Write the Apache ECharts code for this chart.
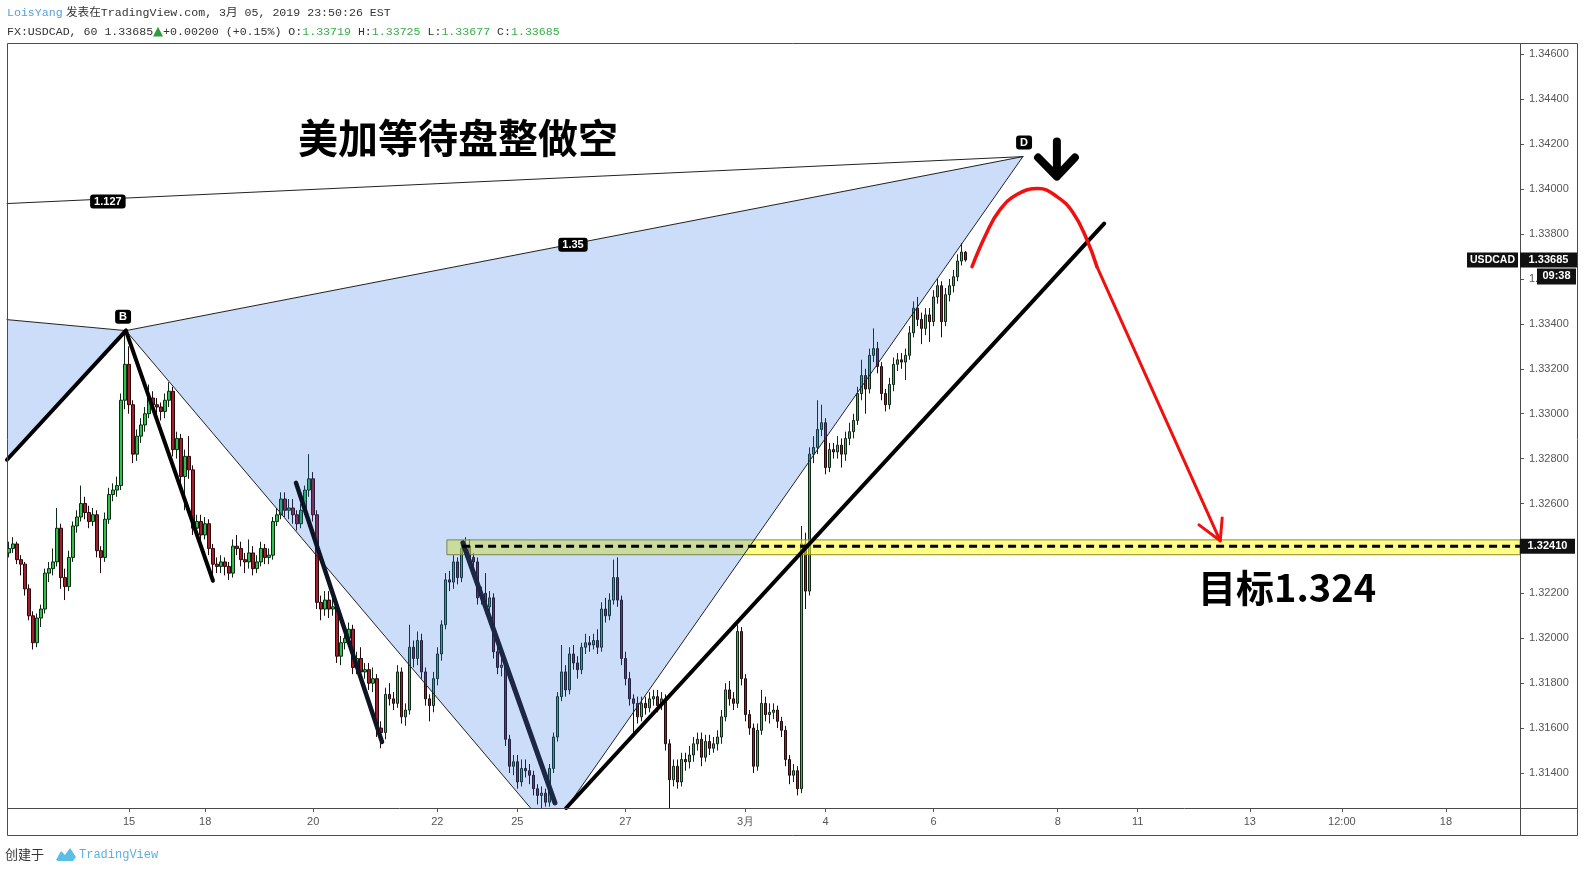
<!DOCTYPE html>
<html><head><meta charset="utf-8">
<script src="https://cdn.jsdelivr.net/npm/echarts@6/dist/echarts.min.js"></script>
<style>html,body{margin:0;padding:0;background:#fff;}#c{width:1584px;height:873px;}</style>
</head><body><div id="c"></div>
<script>
// ---------- DATA ----------
// hourly candles [open, close, low, high]
const ohlc = [
[1.3238,1.3240,1.3236,1.3243],[1.3240,1.3242,1.3238,1.3245],[1.3242,1.3235,1.3233,1.3243],[1.3235,1.3233,1.3228,1.3237],
[1.3233,1.3222,1.3219,1.3234],[1.3222,1.3210,1.3208,1.3224],[1.3210,1.3198,1.3195,1.3212],[1.3198,1.3209,1.3196,1.3211],
[1.3209,1.3213,1.3205,1.3215],[1.3213,1.3229,1.3211,1.3231],[1.3229,1.3231,1.3225,1.3234],[1.3231,1.3234,1.3228,1.3240],
[1.3234,1.3249,1.3232,1.3258],[1.3249,1.3227,1.3222,1.3251],[1.3227,1.3223,1.3217,1.3231],[1.3223,1.3236,1.3221,1.3239],
[1.3236,1.3250,1.3234,1.3252],[1.3250,1.3254,1.3247,1.3257],[1.3254,1.3260,1.3252,1.3268],[1.3260,1.3256,1.3253,1.3263],
[1.3256,1.3252,1.3249,1.3259],[1.3252,1.3255,1.3250,1.3258],[1.3255,1.3239,1.3236,1.3257],[1.3239,1.3236,1.3229,1.3241],
[1.3236,1.3253,1.3234,1.3256],[1.3253,1.3264,1.3251,1.3267],[1.3264,1.3266,1.3261,1.3269],[1.3266,1.3268,1.3263,1.3272],
[1.3268,1.3306,1.3266,1.3309],[1.3306,1.3322,1.3302,1.3336],[1.3322,1.3304,1.3300,1.3330],[1.3304,1.3282,1.3278,1.3306],
[1.3282,1.3290,1.3279,1.3293],[1.3290,1.3295,1.3287,1.3298],[1.3295,1.3300,1.3292,1.3303],[1.3300,1.3307,1.3298,1.3313],
[1.3307,1.3304,1.3301,1.3310],[1.3304,1.3303,1.3299,1.3307],[1.3303,1.3301,1.3297,1.3305],[1.3301,1.3306,1.3298,1.3309],
[1.3306,1.3310,1.3303,1.3314],[1.3310,1.3284,1.3281,1.3312],[1.3284,1.3289,1.3280,1.3292],[1.3289,1.3272,1.3268,1.3291],
[1.3272,1.3281,1.3257,1.3284],[1.3281,1.3275,1.3271,1.3290],[1.3275,1.3249,1.3246,1.3277],[1.3249,1.3252,1.3246,1.3255],
[1.3252,1.3246,1.3243,1.3255],[1.3246,1.3251,1.3244,1.3254],[1.3251,1.3240,1.3237,1.3253],[1.3240,1.3233,1.3226,1.3242],
[1.3233,1.3232,1.3229,1.3236],[1.3232,1.3234,1.3229,1.3237],[1.3234,1.3232,1.3228,1.3236],[1.3232,1.3229,1.3226,1.3234],
[1.3229,1.3241,1.3227,1.3244],[1.3241,1.3240,1.3237,1.3246],[1.3240,1.3235,1.3232,1.3243],[1.3235,1.3234,1.3229,1.3238],
[1.3234,1.3238,1.3231,1.3244],[1.3238,1.3231,1.3228,1.3241],[1.3231,1.3234,1.3229,1.3237],[1.3234,1.3240,1.3232,1.3243],
[1.3240,1.3236,1.3233,1.3242],[1.3236,1.3237,1.3233,1.3240],[1.3237,1.3252,1.3235,1.3254],[1.3252,1.3255,1.3250,1.3258],
[1.3255,1.3262,1.3253,1.3265],[1.3262,1.3257,1.3254,1.3265],[1.3257,1.3258,1.3253,1.3262],[1.3258,1.3255,1.3251,1.3262],
[1.3255,1.3251,1.3248,1.3257],[1.3251,1.3257,1.3249,1.3260],[1.3257,1.3266,1.3255,1.3268],[1.3266,1.3271,1.3263,1.3282],
[1.3271,1.3255,1.3252,1.3274],[1.3255,1.3216,1.3213,1.3257],[1.3216,1.3213,1.3208,1.3219],[1.3213,1.3217,1.3210,1.3221],
[1.3217,1.3213,1.3209,1.3221],[1.3213,1.3214,1.3210,1.3218],[1.3214,1.3192,1.3189,1.3216],[1.3192,1.3198,1.3188,1.3201],
[1.3198,1.3200,1.3195,1.3203],[1.3200,1.3204,1.3197,1.3207],[1.3204,1.3187,1.3184,1.3206],[1.3187,1.3191,1.3184,1.3194],
[1.3191,1.3185,1.3181,1.3196],[1.3185,1.3186,1.3182,1.3189],[1.3186,1.3180,1.3177,1.3189],[1.3180,1.3182,1.3176,1.3187],
[1.3182,1.3160,1.3156,1.3184],[1.3160,1.3158,1.3151,1.3163],[1.3158,1.3175,1.3155,1.3178],[1.3175,1.3173,1.3170,1.3180],
[1.3173,1.3171,1.3168,1.3176],[1.3171,1.3185,1.3169,1.3188],[1.3185,1.3165,1.3162,1.3187],[1.3165,1.3168,1.3161,1.3171],
[1.3168,1.3196,1.3166,1.3206],[1.3196,1.3191,1.3187,1.3199],[1.3191,1.3199,1.3188,1.3203],[1.3199,1.3185,1.3182,1.3202],
[1.3185,1.3173,1.3170,1.3187],[1.3173,1.3170,1.3163,1.3175],[1.3170,1.3182,1.3167,1.3185],[1.3182,1.3193,1.3179,1.3196],
[1.3193,1.3206,1.3190,1.3208],[1.3206,1.3226,1.3204,1.3229],[1.3226,1.3225,1.3221,1.3230],[1.3225,1.3234,1.3222,1.3237],
[1.3234,1.3227,1.3224,1.3236],[1.3227,1.3240,1.3225,1.3243],[1.3240,1.3241,1.3236,1.3245],[1.3241,1.3236,1.3233,1.3244],
[1.3236,1.3234,1.3231,1.3238],[1.3234,1.3218,1.3215,1.3236],[1.3218,1.3220,1.3215,1.3223],[1.3220,1.3214,1.3211,1.3229],
[1.3214,1.3218,1.3210,1.3221],[1.3218,1.3194,1.3191,1.3220],[1.3194,1.3187,1.3184,1.3197],[1.3187,1.3188,1.3183,1.3191],
[1.3188,1.3155,1.3152,1.3190],[1.3155,1.3143,1.3140,1.3157],[1.3143,1.3145,1.3139,1.3148],[1.3145,1.3136,1.3133,1.3148],
[1.3136,1.3142,1.3134,1.3146],[1.3142,1.3141,1.3138,1.3146],[1.3141,1.3139,1.3135,1.3144],[1.3139,1.3133,1.3130,1.3141],
[1.3133,1.3130,1.3126,1.3135],[1.3130,1.3131,1.3124,1.3134],[1.3131,1.3127,1.3125,1.3133],[1.3127,1.3142,1.3125,1.3144],
[1.3142,1.3156,1.3140,1.3158],[1.3156,1.3174,1.3154,1.3176],[1.3174,1.3185,1.3172,1.3197],[1.3185,1.3177,1.3174,1.3188],
[1.3177,1.3193,1.3175,1.3196],[1.3193,1.3189,1.3186,1.3197],[1.3189,1.3186,1.3182,1.3192],[1.3186,1.3196,1.3184,1.3198],
[1.3196,1.3198,1.3193,1.3202],[1.3198,1.3197,1.3194,1.3201],[1.3197,1.3199,1.3195,1.3202],[1.3199,1.3196,1.3193,1.3204],
[1.3196,1.3213,1.3194,1.3216],[1.3213,1.3210,1.3207,1.3218],[1.3210,1.3217,1.3208,1.3220],[1.3217,1.3227,1.3215,1.3235],
[1.3227,1.3217,1.3214,1.3236],[1.3217,1.3191,1.3188,1.3219],[1.3191,1.3182,1.3179,1.3194],[1.3182,1.3173,1.3170,1.3185],
[1.3173,1.3171,1.3157,1.3175],[1.3171,1.3165,1.3162,1.3174],[1.3165,1.3171,1.3163,1.3174],[1.3171,1.3169,1.3166,1.3174],
[1.3169,1.3173,1.3167,1.3176],[1.3173,1.3174,1.3170,1.3177],[1.3174,1.3170,1.3167,1.3177],[1.3170,1.3173,1.3168,1.3176],
[1.3173,1.3153,1.3150,1.3175],[1.3153,1.3137,1.3124,1.3155],[1.3137,1.3143,1.3134,1.3146],[1.3143,1.3136,1.3133,1.3146],
[1.3136,1.3146,1.3134,1.3149],[1.3146,1.3145,1.3141,1.3149],[1.3145,1.3148,1.3142,1.3152],[1.3148,1.3153,1.3145,1.3156],
[1.3153,1.3155,1.3150,1.3158],[1.3155,1.3147,1.3143,1.3158],[1.3147,1.3154,1.3145,1.3157],[1.3154,1.3151,1.3148,1.3157],
[1.3151,1.3153,1.3149,1.3156],[1.3153,1.3156,1.3150,1.3159],[1.3156,1.3165,1.3153,1.3168],[1.3165,1.3177,1.3163,1.3180],
[1.3177,1.3173,1.3170,1.3181],[1.3173,1.3171,1.3168,1.3176],[1.3171,1.3203,1.3169,1.3206],[1.3203,1.3182,1.3179,1.3205],
[1.3182,1.3166,1.3163,1.3184],[1.3166,1.3160,1.3157,1.3168],[1.3160,1.3143,1.3140,1.3162],[1.3143,1.3159,1.3141,1.3162],
[1.3159,1.3171,1.3157,1.3177],[1.3171,1.3166,1.3163,1.3174],[1.3166,1.3167,1.3162,1.3171],[1.3167,1.3168,1.3164,1.3171],
[1.3168,1.3163,1.3160,1.3170],[1.3163,1.3159,1.3156,1.3165],[1.3159,1.3146,1.3143,1.3161],[1.3146,1.3139,1.3135,1.3148],
[1.3139,1.3141,1.3136,1.3144],[1.3141,1.3133,1.3130,1.3143],[1.3133,1.3242,1.3131,1.3250],[1.3242,1.3221,1.3213,1.3247],
[1.3221,1.3282,1.3219,1.3285],[1.3282,1.3285,1.3278,1.3290],[1.3285,1.3293,1.3282,1.3306],[1.3293,1.3296,1.3290,1.3304],
[1.3296,1.3276,1.3273,1.3298],[1.3276,1.3284,1.3274,1.3287],[1.3284,1.3283,1.3280,1.3287],[1.3283,1.3286,1.3280,1.3290],
[1.3286,1.3282,1.3276,1.3289],[1.3282,1.3289,1.3279,1.3292],[1.3289,1.3292,1.3286,1.3296],[1.3292,1.3297,1.3289,1.3300],
[1.3297,1.3309,1.3295,1.3312],[1.3309,1.3317,1.3306,1.3324],[1.3317,1.3311,1.3300,1.3320],[1.3311,1.3326,1.3309,1.3329],
[1.3326,1.3329,1.3323,1.3338],[1.3329,1.3321,1.3318,1.3332],[1.3321,1.3309,1.3306,1.3323],[1.3309,1.3304,1.3301,1.3311],
[1.3304,1.3313,1.3302,1.3316],[1.3313,1.3322,1.3310,1.3325],[1.3322,1.3324,1.3319,1.3327],[1.3324,1.3323,1.3320,1.3327],
[1.3323,1.3326,1.3315,1.3329],[1.3326,1.3336,1.3324,1.3339],[1.3336,1.3347,1.3334,1.3350],[1.3347,1.3342,1.3339,1.3352],
[1.3342,1.3338,1.3331,1.3345],[1.3338,1.3344,1.3335,1.3347],[1.3344,1.3341,1.3332,1.3347],[1.3341,1.3352,1.3339,1.3355],
[1.3352,1.3357,1.3349,1.3360],[1.3357,1.3341,1.3334,1.3359],[1.3341,1.3353,1.3339,1.3356],[1.3353,1.3357,1.3350,1.3360],
[1.3357,1.3361,1.3354,1.3364],[1.3361,1.3368,1.3359,1.3371],[1.3368,1.3372,1.3366,1.3376],[1.33719,1.33685,1.33677,1.33725]
];
const slotCount = 378;                       // hourly slots incl. empty future area
const xTicks = [[30,'15'],[49,'18'],[76,'20'],[107,'22'],[127,'25'],[154,'27'],[184,'3月'],[204,'4'],[231,'6'],[262,'8'],[282,'11'],[310,'13'],[333,'12:00'],[359,'18']];
const yTicks = [1.314,1.316,1.318,1.320,1.322,1.324,1.326,1.328,1.330,1.332,1.334,1.336,1.338,1.340,1.342,1.344,1.346];
const yRange = [1.31244, 1.34651];
const symbolName = 'USDCAD';
const lastPrice = 1.33685;
const countdown = '09:38';
const targetLevel = 1.32410;

// drawing anchors [slot index, price]
const leftXB = [-0.5, 1.33419];
const leftXD = [-0.5, 1.33936];
const leftAB = [-0.5, 1.32795];
const ptB = [29.2, 1.33370];
const ptC = [135.2, 1.31141];
const ptD = [253.3, 1.34145];
const trend1 = [leftAB, ptB];
const trend2 = [ptB, [50.96, 1.32256]];
const trend3 = [[71.7, 1.32692], [93.2, 1.31538]];
const trend4 = [[113.4, 1.32425], [136.4, 1.31267]];
const trend5 = [[139.2, 1.31244], [273.6, 1.33847]];
const targetLineStart = 113.2;
const bandLeft = 109.4, bandLow = 1.32372, bandHigh = 1.32438;
const redArc = [[240.6,1.33655],[244.3,1.33807],[247.6,1.33909],[251.8,1.33976],[257.1,1.34003],[261.8,1.33967],[265.8,1.33896],[269.3,1.33775],[271.8,1.33655]];
const redLeg = [[271.8,1.33655],[302.6,1.32434]];
const redHead = [[297.3,1.32505],[302.6,1.32434],[303.1,1.32536]];
const downShaft = [[261.8,1.34212],[261.8,1.34079]];
const downHead = [[257.1,1.34141],[261.8,1.34056],[266.3,1.34141]];
const labelB = [28.5, 1.33432], labelD = [253.6, 1.34208];
const ratioXD = [24.7, 1.33945], ratioBD = [140.9, 1.33753];
const titlePos = [112.2, 1.34230], targetTextPos = [319.3, 1.32224];

// ---------- CHART ----------
const chart = echarts.init(document.getElementById('c'));
const categories = Array.from({length: slotCount}, (_, i) => String(i));
const tickMap = {}; xTicks.forEach(t => { tickMap[t[0]] = t[1]; });
const isTick = (i) => tickMap[i] !== undefined;

function seg(pts, width, color, z, extra) {
  return Object.assign({type:'line', xAxisIndex:1, yAxisIndex:0, data:pts, symbol:'none', silent:true,
    lineStyle:{width:width, color:color, cap:'round', join:'round'}, z:z}, extra || {});
}
function poly(points, fill, z, stroke) {
  return {type:'custom', xAxisIndex:1, yAxisIndex:0, data:[points[0]], clip:true, silent:true, z:z,
    renderItem:(params, api) => ({type:'polygon', shape:{points: points.map(p => api.coord(p))},
      style:{fill:fill, stroke: stroke || null, lineWidth: stroke ? 1 : 0}})};
}
function textMark(pt, text, label, z) {
  return {type:'scatter', xAxisIndex:1, yAxisIndex:0, data:[pt], symbolSize:1, silent:true, z:z || 9,
    itemStyle:{color:'rgba(0,0,0,0)', opacity:1}, label:Object.assign({show:true, position:'inside', formatter:text}, label)};
}
const boxLabel = {color:'#fff', fontWeight:'bold', fontSize:11, fontFamily:'Liberation Sans, Arial', backgroundColor:'#000', borderRadius:3, padding:[2,4,1,4]};

const series = [
  {type:'candlestick', xAxisIndex:0, yAxisIndex:0, data:ohlc, barWidth:3, silent:true, z:2,
   itemStyle:{color:'#2fbf4c', color0:'#a51d2c', borderColor:'#0e2a16', borderColor0:'#250a0d', borderWidth:1}},
  poly([[bandLeft, bandHigh],[slotCount - 0.5, bandHigh],[slotCount - 0.5, bandLow],[bandLeft, bandLow]], 'rgba(255,252,40,0.55)', 3, '#8e8e1c'),
  poly([leftXB, ptB, leftAB], 'rgba(30,110,230,0.23)', 4),
  poly([ptB, ptC, ptD], 'rgba(30,110,230,0.23)', 4),
  seg([leftXD, ptD], 1, '#222', 5),
  seg([leftXB, ptB], 1, '#222', 5),
  seg([ptB, ptD], 1, '#222', 5),
  seg([ptB, ptC], 1, '#222', 5),
  seg([ptC, ptD], 1, '#222', 5),
  seg(trend1, 4, '#000', 6),
  seg(trend2, 4, '#000', 6),
  seg(trend3, 4.5, '#0d1424', 6),
  seg(trend4, 5, '#1b2744', 6),
  seg(trend5, 4, '#000', 6),
  seg([[targetLineStart, targetLevel],[slotCount - 0.5, targetLevel]], 3, '#000', 7, {lineStyle:{width:3, color:'#000', type:[8,5]}}),
  seg(redArc, 3.5, '#f01010', 7, {smooth:0.45}),
  seg(redLeg, 3, '#f01010', 7),
  seg(redHead, 3, '#f01010', 7),
  seg(downShaft, 8, '#000', 7),
  seg(downHead, 8, '#000', 7),
  textMark(labelB, 'B', boxLabel),
  textMark(labelD, 'D', boxLabel),
  textMark(ratioXD, '1.127', boxLabel),
  textMark(ratioBD, '1.35', boxLabel),
  textMark(titlePos, '美加等待盘整做空', {color:'#000', fontSize:40, fontWeight:'bold', fontFamily:'Noto Sans CJK SC'}),
  textMark(targetTextPos, '目标1.324', {color:'#000', fontSize:38, fontWeight:'bold', fontFamily:'Noto Sans CJK SC'})
];

chart.setOption({
  animation:false,
  backgroundColor:'#fff',
  grid:{left:7, right:64, top:43, bottom:65, containLabel:false, outerBoundsMode:'none'},
  xAxis:[
    {type:'category', data:categories, boundaryGap:true,
     axisLine:{show:false, onZero:false}, splitLine:{show:false},
     axisTick:{show:true, alignWithLabel:true, interval:(i) => isTick(i), length:4, lineStyle:{color:'#555'}},
     axisLabel:{show:true, interval:(i) => isTick(i), formatter:(v, i) => tickMap[i] || '', color:'#555', fontSize:11, fontFamily:'Liberation Sans, Arial', margin:8}},
    {type:'value', min:-0.5, max:slotCount - 0.5, show:false, axisLine:{onZero:false}}
  ],
  yAxis:{type:'value', position:'right', min:yRange[0], max:yRange[1],
    axisLine:{show:false, onZero:false}, splitLine:{show:false},
    axisTick:{show:true, length:4, customValues:yTicks, lineStyle:{color:'#555'}},
    axisLabel:{customValues:yTicks, formatter:(v) => v.toFixed(5), color:'#555', fontSize:11, fontFamily:'Liberation Sans, Arial', margin:9}},
  series:series
});

const mono = "'Liberation Mono', 'DejaVu Sans Mono', 'Noto Sans CJK SC', monospace";
const yLast = chart.convertToPixel({yAxisIndex:0}, lastPrice);
const yTarget = chart.convertToPixel({yAxisIndex:0}, targetLevel);
chart.setOption({graphic:[
  {type:'rect', shape:{x:7.5, y:43.5, width:1570, height:792}, style:{fill:'none', stroke:'#4a4a4a', lineWidth:1}, z:50},
  {type:'line', shape:{x1:7, y1:808.5, x2:1577, y2:808.5}, style:{stroke:'#4a4a4a', lineWidth:1}, z:50},
  {type:'line', shape:{x1:1520.5, y1:43, x2:1520.5, y2:835}, style:{stroke:'#4a4a4a', lineWidth:1}, z:50},
  {type:'text', x:7, y:7, z:50, style:{text:'{u|LoisYang} {t|发表在TradingView.com, 3月 05, 2019 23:50:26 EST}',
    rich:{u:{fill:'#5a9fd6', fontSize:11.6, fontFamily:mono}, t:{fill:'#333', fontSize:11.6, fontFamily:mono}}}},
  {type:'text', x:7, y:25, z:50, style:{text:'{t|FX:USDCAD, 60 1.33685}{a|▲}{t|+0.00200 (+0.15%) O:}{g|1.33719}{t| H:}{g|1.33725}{t| L:}{g|1.33677}{t| C:}{g|1.33685}',
    rich:{t:{fill:'#333', fontSize:11.6, fontFamily:mono}, g:{fill:'#3aae49', fontSize:11.6, fontFamily:mono}, a:{fill:'#2e9e3c', fontSize:13, fontFamily:'DejaVu Sans'}}}},
  {type:'text', x:5, y:848, z:50, style:{text:'创建于', fill:'#333', fontSize:13, fontFamily:'Noto Sans CJK SC'}},
  {type:'polygon', shape:{points:[[56,860],[61,851],[65,855],[70,848],[76,857],[73,861],[58,861]]}, style:{fill:'#5cbde6'}, z:50},
  {type:'text', x:79, y:849, z:50, style:{text:'TradingView', fill:'#5cb0e0', fontSize:12, fontFamily:mono}},
  {type:'rect', shape:{x:1467, y:yLast - 7.5, width:51, height:15}, style:{fill:'#111'}, z:60},
  {type:'text', x:1492.5, y:yLast, z:61, style:{text:symbolName, fill:'#fff', fontSize:10.5, fontWeight:'bold', fontFamily:'Liberation Sans, Arial', align:'center', verticalAlign:'middle'}},
  {type:'rect', shape:{x:1520, y:yLast - 7.5, width:57, height:15}, style:{fill:'#111'}, z:60},
  {type:'text', x:1548.5, y:yLast, z:61, style:{text:lastPrice.toFixed(5), fill:'#fff', fontSize:11, fontWeight:'bold', fontFamily:'Liberation Sans, Arial', align:'center', verticalAlign:'middle'}},
  {type:'rect', shape:{x:1537, y:yLast + 8.5, width:39, height:16}, style:{fill:'#111'}, z:60},
  {type:'text', x:1556.5, y:yLast + 16.5, z:61, style:{text:countdown, fill:'#fff', fontSize:11, fontWeight:'bold', fontFamily:'Liberation Sans, Arial', align:'center', verticalAlign:'middle'}},
  {type:'rect', shape:{x:1520, y:yTarget - 7.5, width:55, height:15}, style:{fill:'#111'}, z:60},
  {type:'text', x:1547.5, y:yTarget, z:61, style:{text:targetLevel.toFixed(5), fill:'#fff', fontSize:11, fontWeight:'bold', fontFamily:'Liberation Sans, Arial', align:'center', verticalAlign:'middle'}}
]});
</script>
</body></html>
